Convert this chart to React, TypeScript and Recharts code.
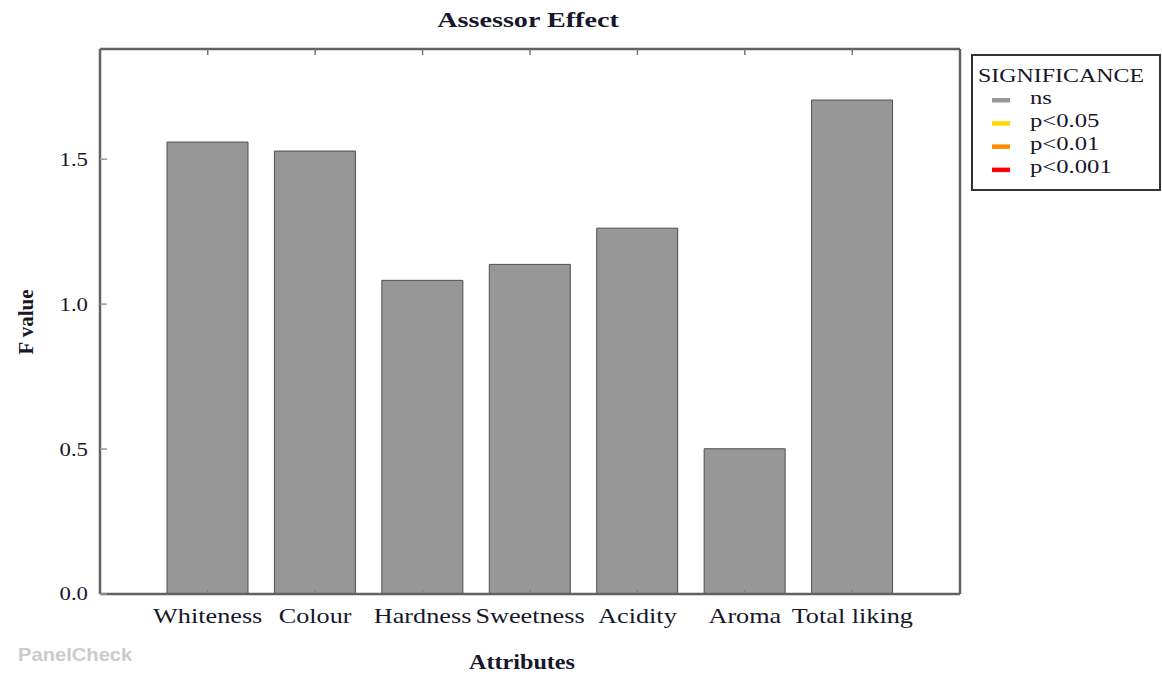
import React from 'react'
import { BarChart, Bar, XAxis, YAxis } from 'recharts'

// attributes and F values
const attributes = ['Whiteness', 'Colour', 'Hardness', 'Sweetness', 'Acidity', 'Aroma', 'Total liking']
const fValues = [1.559, 1.528, 1.082, 1.137, 1.262, 0.501, 1.704]
const yTicks = [0, 0.5, 1.0, 1.5]
const sigLevels = ['ns', 'p<0.05', 'p<0.01', 'p<0.001']
const sigColors = ['#999999', '#FFD700', '#FF8C00', '#FF0000']

const data = attributes.map((name, i) => ({ name, f: fValues[i] }))

const SERIF = '"Liberation Serif", "Times New Roman", serif'
const TEXT = '#17172a'
const FRAME = '#626262'

// the source picture is stretched sideways, so text is widened a little
function BottomTick(props: any) {
  const { x, y, payload } = props
  return (
    <g>
      <line x1={x} x2={x} y1={y - 4} y2={y} stroke="#777" strokeWidth={1} />
      <text
        transform={`translate(${x},${y}) scale(1.22,1)`}
        x={0}
        y={29}
        textAnchor="middle"
        fontFamily={SERIF}
        fontSize={21.5}
        fill={TEXT}
      >
        {payload.value}
      </text>
    </g>
  )
}

function LeftTick(props: any) {
  const { x, y, payload } = props
  return (
    <g>
      <text
        transform={`translate(${x},${y}) scale(1.2,1)`}
        x={0}
        y={0}
        dy="0.34em"
        textAnchor="end"
        fontFamily={SERIF}
        fontSize={19}
        fill={TEXT}
      >
        {Number(payload.value).toFixed(1)}
      </text>
      <line x1={x + 12} x2={x + 19} y1={y} y2={y} stroke="#999" strokeWidth={1.5} />
    </g>
  )
}

function Overlay() {
  return (
    <svg
      width={1162}
      height={675}
      style={{ position: 'absolute', left: 0, top: 0, pointerEvents: 'none' }}
    >
      <text
        transform="translate(528,27) scale(1.28,1)"
        textAnchor="middle"
        fontFamily={SERIF}
        fontWeight="bold"
        fontSize={22}
        fill={TEXT}
      >
        Assessor Effect
      </text>
      <text
        transform="translate(33,322) rotate(-90)"
        textAnchor="middle"
        fontFamily={SERIF}
        fontWeight="bold"
        fontSize={21}
        fill={TEXT}
      >
        F value
      </text>
      <text
        transform="translate(522,669) scale(1.15,1)"
        textAnchor="middle"
        fontFamily={SERIF}
        fontWeight="bold"
        fontSize={21}
        fill={TEXT}
      >
        Attributes
      </text>
      <text
        transform="translate(18,661) scale(1.12,1)"
        fontFamily='"Liberation Sans", Arial, sans-serif'
        fontWeight="bold"
        fontSize={18}
        fill="#cbcbcb"
      >
        PanelCheck
      </text>

      {/* significance legend */}
      <rect x={972} y={55} width={188} height={135} fill="#fff" stroke="#333" strokeWidth={2} />
      <text transform="translate(978,82) scale(1.33,1)" fontFamily={SERIF} fontSize={18} fill={TEXT}>
        SIGNIFICANCE
      </text>
      {sigLevels.map((lvl, i) => (
        <g key={lvl}>
          <rect x={992} y={98 + i * 23.2} width={18} height={4.5} fill={sigColors[i]} />
          <text
            transform={`translate(1030,${103.5 + i * 23.2}) scale(1.3,1)`}
            fontFamily={SERIF}
            fontSize={19}
            fill={TEXT}
          >
            {lvl}
          </text>
        </g>
      ))}
    </svg>
  )
}

export default function App() {
  return (
    <div style={{ position: 'absolute', left: 0, top: 0, width: 1162, height: 675, background: '#fff' }}>
      <BarChart
        width={1162}
        height={675}
        data={data}
        margin={{ top: 49, right: 201, bottom: 0, left: 0 }}
        barSize={81}
      >
        <XAxis
          dataKey="name"
          height={81}
          padding={{ left: 54, right: 54 }}
          tickSize={0}
          tickMargin={0}
          tickLine={false}
          axisLine={{ stroke: FRAME, strokeWidth: 2.5 }}
          tick={<BottomTick />}
          interval={0}
        />
        <XAxis
          xAxisId="top"
          dataKey="name"
          orientation="top"
          height={1}
          mirror
          padding={{ left: 54, right: 54 }}
          tickSize={6}
          tickLine={{ stroke: '#777', strokeWidth: 1.5 }}
          tick={() => <g />}
          axisLine={{ stroke: FRAME, strokeWidth: 2.5 }}
          interval={0}
        />
        <YAxis
          width={100}
          domain={[0, 1.88]}
          ticks={yTicks}
          tickSize={0}
          tickMargin={12}
          tickLine={false}
          tick={<LeftTick />}
          axisLine={{ stroke: FRAME, strokeWidth: 2.5 }}
          allowDataOverflow
        />
        <YAxis
          yAxisId="right"
          orientation="right"
          width={1}
          domain={[0, 1.88]}
          tick={false}
          tickLine={false}
          axisLine={{ stroke: FRAME, strokeWidth: 2.5 }}
        />
        <Bar dataKey="f" fill="#979797" stroke="#4f4f4f" strokeWidth={1} isAnimationActive={false} />
      </BarChart>
      <Overlay />
    </div>
  )
}
